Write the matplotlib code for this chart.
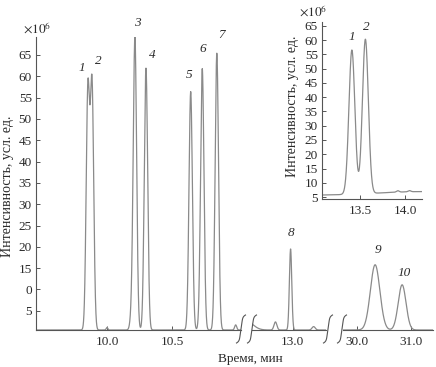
import numpy as np
import matplotlib
matplotlib.use('Agg')
import matplotlib.pyplot as plt
from matplotlib.lines import Line2D

plt.rcParams['font.family'] = ['Liberation Serif', 'DejaVu Serif']
plt.rcParams['mathtext.fontset'] = 'stix'

# ---- data: retention time, min; height, x10^6; sigma, min
seg1_rt = [9.853, 9.885, 10.00, 10.19, 10.215, 10.300, 10.644, 10.733, 10.845, 10.99]
seg1_h = [55.8, 56.8, 0.6, 3.0, 68.4, 61.4, 55.9, 61.3, 64.9, 1.2]
seg1_sig = [0.013, 0.013, 0.006, 0.012, 0.013, 0.013, 0.013, 0.013, 0.013, 0.008]

seg2_rt = [12.65, 12.87, 12.985, 13.16]
seg2_h = [2.0, 1.9, 19.0, 0.8]
seg2_sig = [0.05, 0.011, 0.009, 0.012]

seg3_rt = [30.335, 30.835]
seg3_h = [15.3, 10.6]
seg3_sig = [0.088, 0.072]

ins_rt = [13.41, 13.56, 14.20, 13.92, 14.05]
ins_h = [50.6, 54.2, 1.3, 0.5, 0.4]
ins_sig = [0.033, 0.033, 0.5, 0.015, 0.015]

main_base = 0.5
ins_base = 5.6

seg_xlims = [(9.454, 11.031), (12.692, 13.254), (29.74, 31.407)]
seg_ticks = [[10.0, 10.5], [13.0], [30.0, 31.0]]
y_ticks = [5, 10, 15, 20, 25, 30, 35, 40, 45, 50, 55, 60, 65]
y_ticklabels = ['5', '0', '15', '20', '25', '30', '35', '40', '45', '50', '55', '60', '65']
ins_yticks = [5, 10, 15, 20, 25, 30, 35, 40, 45, 50, 55, 60, 65]
ins_xticks = [13.5, 14.0]

peak_labels = ['1', '2', '3', '4', '5', '6', '7', '8', '9', '10']
peak_label_seg = [0, 0, 0, 0, 0, 0, 0, 1, 2, 2]
peak_label_x = [9.808, 9.931, 10.23, 10.346, 10.631, 10.738, 10.885, 12.99, 30.39, 30.87]
peak_label_y = [61.9, 63.6, 72.5, 65.0, 60.3, 66.4, 69.7, 23.3, 19.3, 13.9]
ins_label_x = [13.41, 13.567]
ins_label_y = [61.1, 64.6]

W, H = 436, 367
LINE = '#8a8a8a'
AX = '#555555'
TXT = '#2a2a2a'


def signal(t, rts, hs, sigs, base):
    y = np.full_like(t, base)
    for r, h, s in zip(rts, hs, sigs):
        y += h * np.exp(-(t - r) ** 2 / (2 * s ** 2))
    return y


def frac(x0, x1, ytop, ybot):
    return [x0 / W, 1 - ybot / H, (x1 - x0) / W, (ybot - ytop) / H]


fig = plt.figure(figsize=(W / 100, H / 100), dpi=100)

seg_px = [(36, 241), (252, 326), (343, 433)]
seg_data = [(seg1_rt, seg1_h, seg1_sig), (seg2_rt, seg2_h, seg2_sig), (seg3_rt, seg3_h, seg3_sig)]
axes = []
for i, ((x0, x1), xl, ticks, (rts, hs, sigs)) in enumerate(zip(seg_px, seg_xlims, seg_ticks, seg_data)):
    ax = fig.add_axes(frac(x0, x1, 37, 330))
    t = np.linspace(xl[0], xl[1], 3000)
    ax.plot(t, signal(t, rts, hs, sigs, main_base), color=LINE, lw=0.9)
    ax.set_xlim(*xl)
    ax.set_ylim(0.5, 69.2)
    ax.set_xticks(ticks)
    ax.set_xticklabels(['%.1f' % v for v in ticks])
    for s in ['top', 'right']:
        ax.spines[s].set_visible(False)
    ax.spines['bottom'].set_color(AX)
    ax.spines['bottom'].set_linewidth(0.8)
    ax.tick_params(axis='x', direction='in', length=3, width=0.7, color=AX,
                   labelsize=9.5, labelcolor=TXT, pad=4)
    if i == 0:
        ax.spines['left'].set_color(AX)
        ax.spines['left'].set_linewidth(0.8)
        ax.set_yticks(y_ticks)
        ax.set_yticklabels(y_ticklabels)
        ax.tick_params(axis='y', direction='in', length=3, width=0.7, color=AX,
                       labelsize=9.5, labelcolor=TXT, pad=3)
    else:
        ax.spines['left'].set_visible(False)
        ax.set_yticks([])
    ax.patch.set_visible(False)
    axes.append(ax)

for lab, si, x, y in zip(peak_labels, peak_label_seg, peak_label_x, peak_label_y):
    axes[si].text(x, y, lab, ha='center', va='center', fontsize=9.5, style='italic',
                  color=TXT, clip_on=False)

# break marks
for xc in [241, 252, 328, 342]:
    tt = np.linspace(-1, 1, 60)
    xs = xc + 2.0 * tt + 2.5 * tt ** 9
    ys = 329 - 14 * tt
    fig.add_artist(Line2D(xs / W, 1 - ys / H, transform=fig.transFigure, color=AX, lw=0.8))

fig.text(37 / W, 1 - 29 / H, r'$\times10^{6}$', ha='center', va='center', fontsize=9.5, color=TXT)
fig.text(8 / W, 1 - 186 / H, 'Интенсивность, усл. ед.', rotation=90, ha='center', va='center',
         fontsize=10, color=TXT)
fig.text(250 / W, 1 - 359 / H, 'Время, мин', ha='center', va='center', fontsize=9.5, color=TXT)

# inset
axi = fig.add_axes(frac(322, 422, 22, 199))
ti = np.linspace(13.078, 14.189, 1500)
axi.plot(ti, signal(ti, ins_rt, ins_h, ins_sig, ins_base), color=LINE, lw=0.9)
axi.set_xlim(13.078, 14.189)
axi.set_ylim(4.3, 66.4)
axi.set_xticks(ins_xticks)
axi.set_xticklabels(['%.1f' % v for v in ins_xticks])
axi.set_yticks(ins_yticks)
for s in ['top', 'right']:
    axi.spines[s].set_visible(False)
for s in ['left', 'bottom']:
    axi.spines[s].set_color(AX)
    axi.spines[s].set_linewidth(0.8)
axi.tick_params(direction='in', length=3, width=0.7, color=AX, labelsize=9.5, labelcolor=TXT)
axi.tick_params(axis='y', pad=3)
axi.tick_params(axis='x', pad=4)
axi.patch.set_visible(False)
for lab, x, y in zip(['1', '2'], ins_label_x, ins_label_y):
    axi.text(x, y, lab, ha='center', va='center', fontsize=9.5, style='italic', color=TXT,
             clip_on=False)
fig.text(313 / W, 1 - 12 / H, r'$\times10^{6}$', ha='center', va='center', fontsize=9.5, color=TXT)
fig.text(292 / W, 1 - 106 / H, 'Интенсивность, усл. ед.', rotation=90, ha='center', va='center',
         fontsize=10, color=TXT)

fig.savefig('out.png', dpi=100)
